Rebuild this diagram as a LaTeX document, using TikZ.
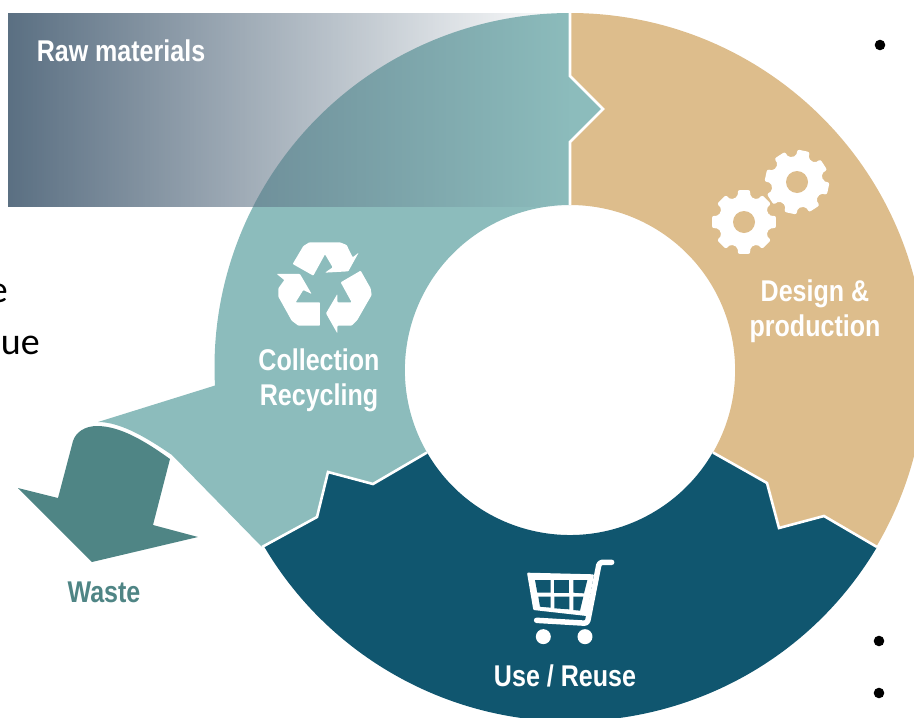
\documentclass[tikz,border=0pt]{standalone}
\usepackage{fontspec}
\usetikzlibrary{fadings}
\newfontfamily\labelfont[FakeStretch=0.835]{Liberation Sans}
\newfontfamily\bodyfont{Carlito}
\definecolor{tealseg}{HTML}{8CBCBC}
\definecolor{tanseg}{HTML}{DDBD8C}
\definecolor{blueseg}{HTML}{10566F}
\definecolor{wastegreen}{HTML}{4F8585}
\definecolor{rawblue}{HTML}{5A6F82}
\tikzfading[name=rawfade,left color=transparent!0,right color=transparent!100]
\tikzset{
  seam/.style={white,line width=2.6pt,line join=miter},
  lab/.style={font=\labelfont\bfseries\fontsize{30}{35}\selectfont,text=white,inner sep=0pt,align=center},
  bodytext/.style={font=\bodyfont\fontsize{38}{46}\selectfont,text=black,inner sep=0pt,anchor=base east},
  bulletdot/.style={circle,fill=black,minimum size=10.6pt,inner sep=0pt},
  icon/.style={fill=white,draw=none}
}
\newcommand{\gearicon}[3]{%
  \fill[icon,rounded corners=2pt,shift={(#1,#2)}]
    ({#3-14}:26) \foreach \i in {0,...,7}{
      -- ({#3+\i*45-14}:26) -- ({#3+\i*45-11}:32.5) -- ({#3+\i*45+11}:32.5) -- ({#3+\i*45+14}:26)
    } -- cycle;
  \fill[tanseg,shift={(#1,#2)}] (0,0) circle[radius=11pt];
}
\begin{document}
\begin{tikzpicture}[x=1pt,y=-1pt]
\useasboundingbox (0,0) rectangle (914,718);
% teal segment
\fill[tealseg] (570,13) arc[start angle=90,end angle=183,x radius=355.5pt,y radius=354pt]
  -- (98,422) .. controls (122,422) and (150,440) .. (172,455)
  -- (262,547) -- (317,517) -- (328,472) -- (373,484) -- (427,452.5)
  arc[start angle=210,end angle=90,radius=165pt]
  -- (570,142) -- (603,109) -- (570,76) -- cycle;
% tan segment
\fill[tanseg] (570,13) arc[start angle=90,end angle=-30.5,x radius=355.5pt,y radius=354pt]
  -- (824,516) -- (779,528) -- (767,483) -- (713,452.5)
  arc[start angle=-30,end angle=90,radius=165pt]
  -- (570,142) -- (603,109) -- (570,76) -- cycle;
% blue segment
\fill[blueseg] (877,547) arc[start angle=-30.5,end angle=-149.5,x radius=355.5pt,y radius=354pt]
  -- (317,517) -- (328,472) -- (373,484) -- (427,452.5)
  arc[start angle=210,end angle=330,radius=165pt]
  -- (767,483) -- (779,528) -- (824,516) -- cycle;
% white seams
\draw[seam] (570,205) -- (570,142) -- (603,109) -- (570,76) -- (570,13);
\draw[seam] (262,547) -- (317,517) -- (328,472) -- (373,484) -- (427,452.5);
\draw[seam] (877,547) -- (824,516) -- (779,528) -- (767,483) -- (713,452.5);
% raw materials band
\fill[rawblue,path fading=rawfade] (8,13) rectangle (569,207);
\node[lab] (raw) at (121,51) {Raw materials};
% waste arrow
\fill[wastegreen] (170,459) .. controls (145,441) and (120,426) .. (97,426)
  .. controls (85,426) and (76,432) .. (73,441)
  -- (58,498) -- (18,488) -- (92,562) -- (198,537) -- (153,525) -- cycle;
\node[lab,text=wastegreen] (waste) at (104,592) {Waste};
% gears
\gearicon{744}{222}{0}
\gearicon{797}{182}{12}
% recycle icon
\begin{scope}[shift={(250,230)},x=0.3333pt,y=-0.3333pt]
\fill[icon,rounded corners=0.8pt] (128,102) -- (160,48) -- (178,37) -- (270,37) -- (290,45) -- (308,82) -- (326,68) -- (295,124) -- (225,128) -- (248,112) -- (225,73) -- (190,137) -- cycle;
\fill[icon,rounded corners=0.8pt] (80,132) -- (150,132) -- (185,192) -- (160,180) -- (137,217) -- (210,217) -- (210,287) -- (145,287) -- (125,272) -- (85,200) -- (85,175) -- (103,150) -- cycle;
\fill[icon,rounded corners=0.8pt] (272,157) -- (332,122) -- (362,175) -- (365,195) -- (322,270) -- (305,287) -- (262,287) -- (262,310) -- (228,250) -- (262,192) -- (262,217) -- (305,217) -- cycle;
\end{scope}
% cart icon
\begin{scope}[shift={(480,540)},x=0.3333pt,y=-0.3333pt]
\fill[icon,rounded corners=1pt] (141,98) -- (342,103) -- (320,228) -- (160,210) -- cycle;
\fill[blueseg] (165,120) -- (212,120) -- (212,158) -- (172,158) -- cycle;
\fill[blueseg] (223,120) -- (268,120) -- (268,158) -- (223,158) -- cycle;
\fill[blueseg] (280,120) -- (322,120) -- (312,160) -- (280,158) -- cycle;
\fill[blueseg] (175,170) -- (212,170) -- (212,203) -- (180,200) -- cycle;
\fill[blueseg] (223,170) -- (268,170) -- (268,208) -- (223,205) -- cycle;
\fill[blueseg] (280,170) -- (310,170) -- (300,212) -- (280,210) -- cycle;
\draw[white,line width=5.5pt,line cap=round,line join=round,rounded corners=3pt] (395,67) -- (358,67) -- (322,250) -- (170,241);
\fill[icon] (190,290) circle[radius=7.5pt];
\fill[icon] (315,290) circle[radius=7.5pt];
\end{scope}
% labels
\node[lab] (design) at (815,311.5) {Design \&\\production};
\node[lab] (collect) at (319,380.5) {Collection\\Recycling};
\node[lab] (use) at (565,676) {Use / Reuse};
% cut-off body text
\node[bodytext] (t1) at (8,302) {e};
\node[bodytext] (t2) at (40,354) {ue};
\node[bulletdot] (b1) at (880,45) {};
\node[bulletdot] (b2) at (879,641) {};
\node[bulletdot] (b3) at (879,693) {};
\end{tikzpicture}
\end{document}
